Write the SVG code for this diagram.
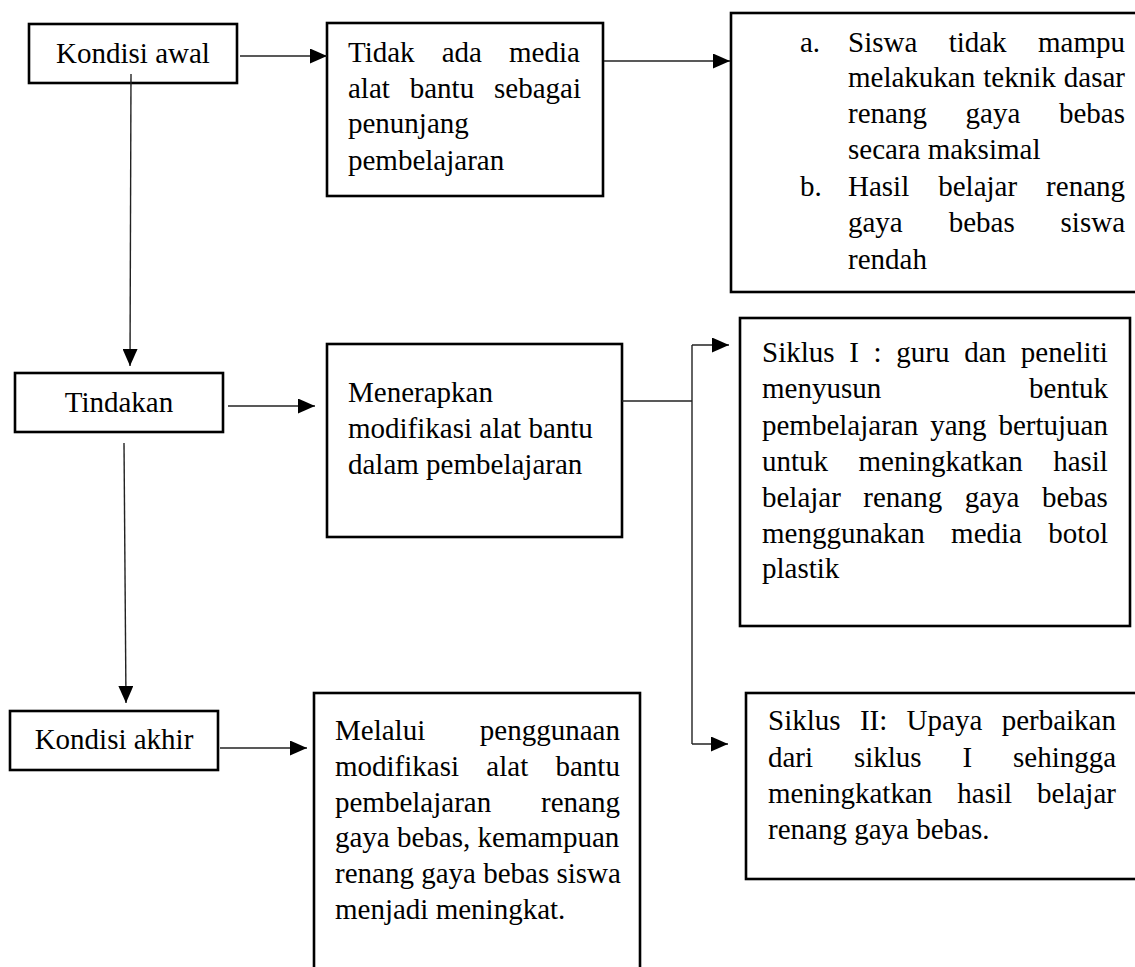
<svg xmlns="http://www.w3.org/2000/svg" width="1135" height="967" viewBox="0 0 1135 967">
<defs>
<style>
.box{fill:#fff;stroke:#000;stroke-width:2.6}
.t{font-family:"Liberation Serif","Times New Roman",serif;font-size:29px;fill:#000}
.c{text-anchor:middle}
.e{text-anchor:end}
.ln{fill:none;stroke:#222;stroke-width:1.4}
.ar{marker-end:url(#ah)}
</style>
<marker id="ah" markerUnits="userSpaceOnUse" markerWidth="17" markerHeight="15" viewBox="0 0 17 15" refX="17" refY="7.5" orient="auto">
<path d="M0,0 L17,7.5 L0,15 z" fill="#000"/>
</marker>
</defs>
<rect width="1135" height="967" fill="#fff"/>

<g id="kondisi-awal">
<rect class="box" x="29" y="24" width="208" height="59"/>
<text class="t c" x="133" y="63">Kondisi awal</text>
</g>

<g id="tidak-ada-media">
<rect class="box" x="327" y="23" width="276" height="173"/>
<text class="t" x="348" y="62" word-spacing="19.85">Tidak ada media</text>
<text class="t" x="348" y="98" word-spacing="12.6">alat bantu sebagai</text>
<text class="t" x="348" y="133">penunjang</text>
<text class="t" x="348" y="170">pembelajaran</text>
</g>

<g id="masalah">
<rect class="box" x="731" y="13" width="406" height="279"/>
<text class="t" x="800" y="52">a.</text>
<text class="t" x="848" y="52" word-spacing="24.1">Siswa tidak mampu</text>
<text class="t" x="848" y="87" word-spacing="0.8">melakukan teknik dasar</text>
<text class="t" x="848" y="123" word-spacing="31.4">renang gaya bebas</text>
<text class="t" x="848" y="159">secara maksimal</text>
<text class="t" x="800" y="196">b.</text>
<text class="t" x="848" y="196" word-spacing="21.75">Hasil belajar renang</text>
<text class="t" x="848" y="232" word-spacing="38.65">gaya bebas siswa</text>
<text class="t" x="848" y="269">rendah</text>
</g>

<g id="tindakan">
<rect class="box" x="15" y="373" width="208" height="59"/>
<text class="t c" x="119" y="412">Tindakan</text>
</g>

<g id="menerapkan">
<rect class="box" x="327" y="344" width="295" height="193"/>
<text class="t" x="348" y="402">Menerapkan</text>
<text class="t" x="348" y="438">modifikasi alat bantu</text>
<text class="t" x="348" y="474">dalam pembelajaran</text>
</g>

<g id="siklus-1">
<rect class="box" x="740" y="318" width="390" height="308"/>
<text class="t" x="762" y="362" word-spacing="7.45">Siklus I : guru dan peneliti</text>
<text class="t" x="762" y="398">menyusun</text>
<text class="t e" x="1108" y="398">bentuk</text>
<text class="t" x="762" y="435" word-spacing="4.7">pembelajaran yang bertujuan</text>
<text class="t" x="762" y="471" word-spacing="23.15">untuk meningkatkan hasil</text>
<text class="t" x="762" y="507" word-spacing="15.2">belajar renang gaya bebas</text>
<text class="t" x="762" y="543" word-spacing="19.15">menggunakan media botol</text>
<text class="t" x="762" y="578">plastik</text>
</g>

<g id="kondisi-akhir">
<rect class="box" x="10" y="711" width="208" height="59"/>
<text class="t c" x="114" y="749">Kondisi akhir</text>
</g>

<g id="melalui">
<rect class="box" x="314" y="693" width="326" height="290"/>
<text class="t" x="335" y="740" word-spacing="47.4">Melalui penggunaan</text>
<text class="t" x="335" y="776" word-spacing="20.05">modifikasi alat bantu</text>
<text class="t" x="335" y="812" word-spacing="42.6">pembelajaran renang</text>
<text class="t" x="335" y="847">gaya bebas, kemampuan</text>
<text class="t" x="335" y="883">renang gaya bebas siswa</text>
<text class="t" x="335" y="919">menjadi meningkat.</text>
</g>

<g id="siklus-2">
<rect class="box" x="746" y="693" width="391" height="186"/>
<text class="t" x="768" y="730" word-spacing="12.1">Siklus II: Upaya perbaikan</text>
<text class="t" x="768" y="767" word-spacing="33.6">dari siklus I sehingga</text>
<text class="t" x="768" y="803" word-spacing="17.75">meningkatkan hasil belajar</text>
<text class="t" x="768" y="839">renang gaya bebas.</text>
</g>

<g id="connectors">
<line class="ln ar" x1="240" y1="56" x2="327" y2="56"/>
<line class="ln ar" x1="604" y1="61" x2="730" y2="61"/>
<line class="ln ar" x1="131" y1="74" x2="130" y2="366"/>
<line class="ln ar" x1="228" y1="406" x2="315" y2="406"/>
<line class="ln" x1="622" y1="401" x2="692" y2="401"/>
<line class="ln" x1="692" y1="345" x2="692" y2="744"/>
<line class="ln ar" x1="692" y1="345" x2="729" y2="345"/>
<line class="ln ar" x1="692" y1="744" x2="728" y2="744"/>
<line class="ln ar" x1="124" y1="443" x2="126" y2="703"/>
<line class="ln ar" x1="220" y1="748" x2="307" y2="748"/>
</g>
</svg>
